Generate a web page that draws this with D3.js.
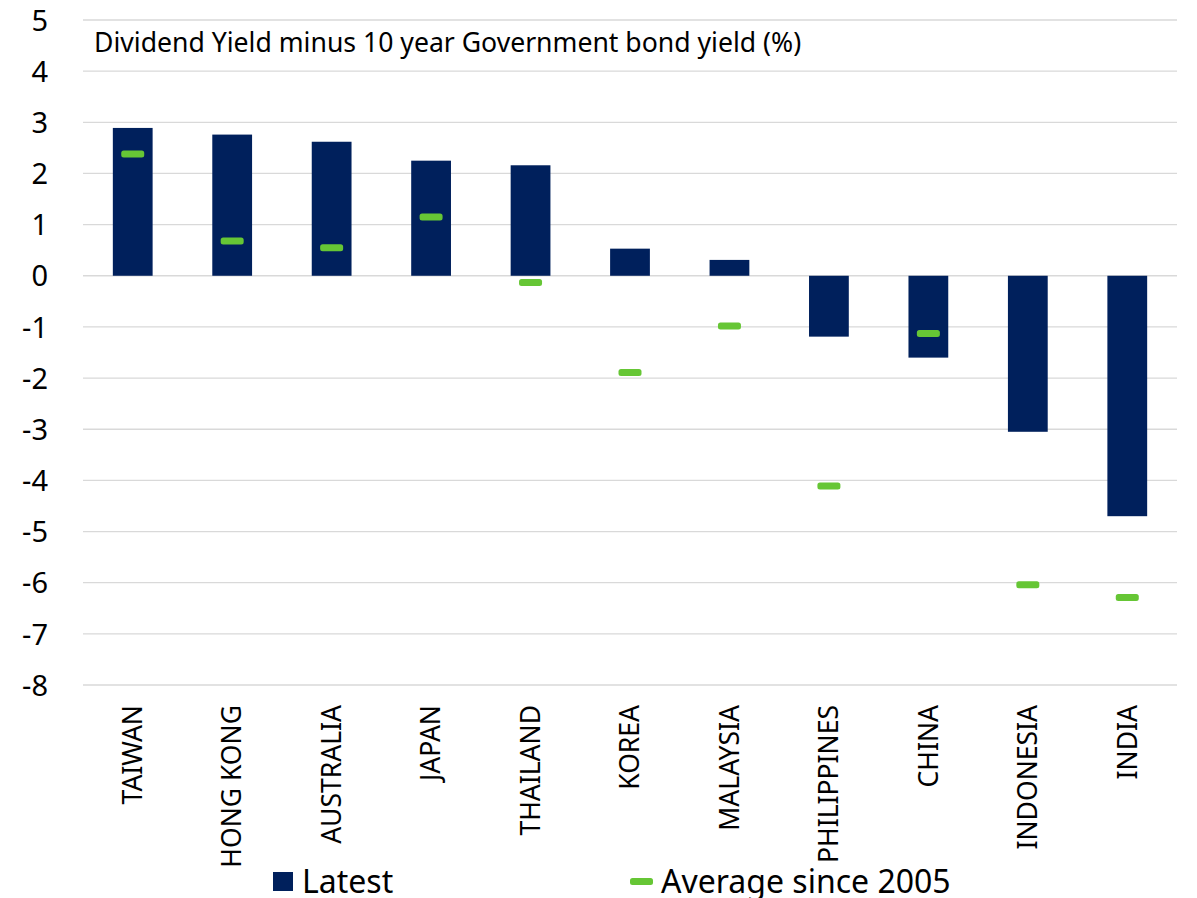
<!DOCTYPE html>
<html>
<head>
<meta charset="utf-8">
<script src="https://cdn.jsdelivr.net/npm/d3@7"></script>
<style>
  html, body { margin: 0; padding: 0; background: #fff; }
  svg { display: block; font-family: "Noto Sans", "Open Sans", sans-serif; }
</style>
</head>
<body>
<svg id="chart" width="1197" height="898"></svg>
<script>
// Dividend yield minus 10-year government bond yield, by market (%)
const categories = ["TAIWAN", "HONG KONG", "AUSTRALIA", "JAPAN", "THAILAND", "KOREA",
  "MALAYSIA", "PHILIPPINES", "CHINA", "INDONESIA", "INDIA"];
const latest = [2.89, 2.76, 2.62, 2.25, 2.16, 0.53, 0.31, -1.19, -1.60, -3.05, -4.70];
const average2005 = [2.38, 0.68, 0.55, 1.15, -0.13, -1.89, -0.98, -4.11, -1.13, -6.04, -6.29];
const yTicks = [5, 4, 3, 2, 1, 0, -1, -2, -3, -4, -5, -6, -7, -8];
const titleText = "Dividend Yield minus 10 year Government bond yield (%)";
const legendLabels = ["Latest", "Average since 2005"];

const navy = "#00205C";
const green = "#66C635";
const gridColor = "#D9D9D9";
const fontStack = "\"Noto Sans\", \"Open Sans\", sans-serif";

const svg = d3.select("#chart");
const plot = { left: 83, right: 1177, top: 20, bottom: 685 };

const x = d3.scaleBand()
  .domain(categories)
  .range([plot.left, plot.right])
  .paddingInner(0.6)
  .paddingOuter(0.3);

const y = d3.scaleLinear()
  .domain([-8, 5])
  .range([plot.bottom, plot.top]);

// Horizontal gridlines
svg.append("g")
  .selectAll("line")
  .data(yTicks)
  .join("line")
  .attr("x1", plot.left)
  .attr("x2", plot.right)
  .attr("y1", d => y(d))
  .attr("y2", d => y(d))
  .attr("stroke", gridColor)
  .attr("stroke-width", 1.3);

// Y axis labels (plain hyphen for negatives)
const yAxis = d3.axisLeft(y).tickValues(yTicks).tickSize(0).tickPadding(0)
  .tickFormat(d => String(d));
svg.append("g")
  .attr("transform", "translate(48,0)")
  .call(yAxis)
  .call(g => g.select(".domain").remove())
  .call(g => g.selectAll("text")
    .attr("fill", "#000")
    .attr("font-size", 29)
    .attr("font-family", fontStack)
    .attr("dy", "0.35em"));

// Latest bars
svg.append("g")
  .selectAll("rect")
  .data(categories)
  .join("rect")
  .attr("x", d => x(d))
  .attr("width", x.bandwidth())
  .attr("y", (d, i) => y(Math.max(0, latest[i])))
  .attr("height", (d, i) => Math.abs(y(latest[i]) - y(0)))
  .attr("fill", navy);

// Average-since-2005 markers
const mW = 23, mH = 7;
svg.append("g")
  .selectAll("rect")
  .data(categories)
  .join("rect")
  .attr("x", d => x(d) + x.bandwidth() / 2 - mW / 2)
  .attr("y", (d, i) => y(average2005[i]) - mH / 2)
  .attr("width", mW)
  .attr("height", mH)
  .attr("rx", 2.5)
  .attr("fill", green);

// Category labels, rotated
const xAxis = d3.axisBottom(x).tickSize(0).tickPadding(0);
svg.append("g")
  .attr("transform", `translate(0,${plot.bottom})`)
  .call(xAxis)
  .call(g => g.select(".domain").remove())
  .call(g => g.selectAll("text")
    .attr("fill", "#000")
    .attr("font-size", 26.5)
    .attr("font-family", fontStack)
    .attr("text-anchor", "end")
    .attr("transform", "rotate(-90)")
    .attr("x", -20)
    .attr("y", 0)
    .attr("dy", "0.35em"));

// Title inside the plot
svg.append("text")
  .attr("x", 94)
  .attr("y", 52)
  .attr("font-size", 26.6)
  .attr("fill", "#000")
  .text(titleText);

// Legend
const legend = svg.append("g");
legend.append("rect")
  .attr("x", 273).attr("y", 872).attr("width", 20).attr("height", 19)
  .attr("fill", navy);
legend.append("text")
  .attr("x", 302).attr("y", 893)
  .attr("font-size", 32).attr("fill", "#000")
  .text(legendLabels[0]);
legend.append("rect")
  .attr("x", 630).attr("y", 878).attr("width", 23).attr("height", 7).attr("rx", 2.5)
  .attr("fill", green);
legend.append("text")
  .attr("x", 661).attr("y", 893)
  .attr("font-size", 32).attr("fill", "#000")
  .text(legendLabels[1]);
</script>
</body>
</html>
